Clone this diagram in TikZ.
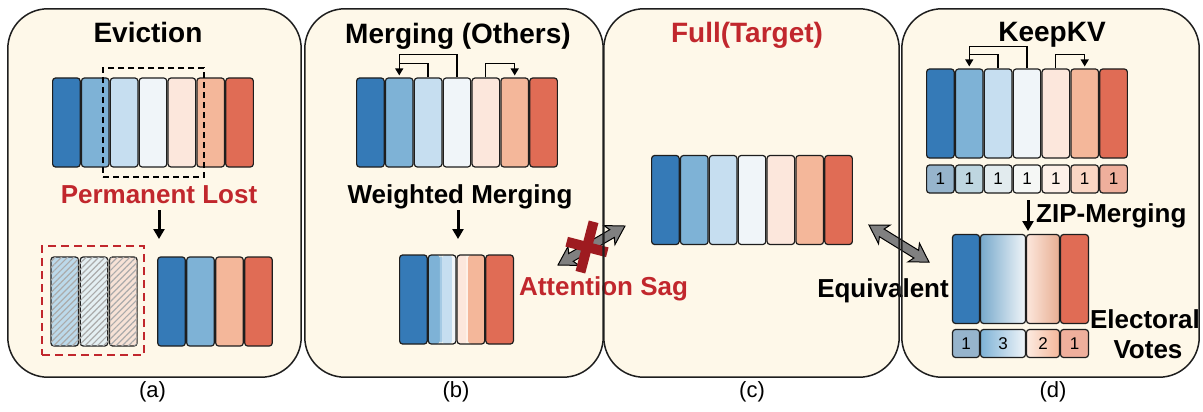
\documentclass[tikz,border=0pt]{standalone}
\usepackage{fontspec}
\setmainfont{Liberation Sans}
\usetikzlibrary{calc,arrows.meta,patterns.meta}
\definecolor{c1}{HTML}{357AB7}
\definecolor{c2}{HTML}{7EB2D6}
\definecolor{c3}{HTML}{C6DEF0}
\definecolor{c4}{HTML}{F0F5F9}
\definecolor{c5}{HTML}{FCE7DC}
\definecolor{c6}{HTML}{F4B79A}
\definecolor{c7}{HTML}{E06C55}
\definecolor{v1}{HTML}{96B4CC}
\definecolor{v2}{HTML}{BED6E0}
\definecolor{v3}{HTML}{E2EBEE}
\definecolor{v4}{HTML}{F5F7F5}
\definecolor{v5}{HTML}{FDF0E8}
\definecolor{v6}{HTML}{FAD6C4}
\definecolor{v7}{HTML}{EFAF9C}
\definecolor{h1}{HTML}{BCD9EA}
\definecolor{h2}{HTML}{E4EFF2}
\definecolor{h3}{HTML}{F7E2D6}
\definecolor{hatch}{HTML}{ABABAB}
\definecolor{cream}{HTML}{FEF8E9}
\definecolor{xred}{HTML}{C1272D}
\definecolor{xdark}{HTML}{9E1B20}
\definecolor{fatgray}{HTML}{808080}
\definecolor{edge}{HTML}{1E1E1E}
\newcommand\ttlfont{\fontsize{28}{32}\selectfont\bfseries}
\newcommand\lblfont{\fontsize{26}{30}\selectfont\bfseries}
\newcommand\capfont{\fontsize{22}{26}\selectfont}
\newcommand\numfont{\fontsize{17}{20}\selectfont}
\newcommand\mystripe[3]{\fill[#3] ($(path picture bounding box.south west)!#1!(path picture bounding box.south east)$) rectangle ($(path picture bounding box.north west)!#2!(path picture bounding box.north east)$);}
% fat double arrow of length #1 (pt), along local x axis
\newcommand\fatpoly[1]{\filldraw[fatarrow] (0pt,0pt) -- (18pt,11pt) -- (15pt,4.5pt) -- ({#1pt-15pt},4.5pt) -- ({#1pt-18pt},11pt) -- (#1pt,0pt) -- ({#1pt-18pt},-11pt) -- ({#1pt-15pt},-4.5pt) -- (15pt,-4.5pt) -- (18pt,-11pt) -- cycle;}
\begin{document}
\begin{tikzpicture}[x=1pt,y=-1pt,
  panelfill/.style={fill=cream, rounded corners=40pt, minimum height=368pt, inner sep=0pt},
  paneledge/.style={draw=edge, line width=1.5pt, rounded corners=40pt},
  bar/.style={draw=edge, line width=1.2pt, rounded corners=3pt, minimum width=27.6pt, minimum height=89pt, inner sep=0pt},
  vote/.style={bar, minimum height=28pt, font=\numfont},
  hbar/.style={bar, postaction={pattern={Lines[angle=45,distance=4.4pt,line width=1.2pt]}, pattern color=hatch}},
  ttl/.style={font=\ttlfont, anchor=base, inner sep=0pt},
  lbl/.style={font=\lblfont, anchor=base, inner sep=0pt},
  subcap/.style={font=\capfont, inner sep=0pt},
  conn/.style={draw=black, line width=1.3pt, -{Triangle[length=7pt,width=8pt]}},
  plain/.style={draw=black, line width=1.3pt},
  down/.style={draw=black, line width=3pt, -{Triangle[length=10pt,width=11pt]}},
  fatarrow/.style={draw=black, line width=1pt, fill=fatgray, line join=miter},
  xbar/.style={draw=xdark, line width=10pt}
]
\useasboundingbox (0,0) rectangle (1203,412);
\fill[white] (0,0) rectangle (1203,412);

% panel backgrounds
\node[panelfill, minimum width=293pt] (pa) at (154.5,193) {};
\node[panelfill, minimum width=298pt] (pb) at (454,193) {};
\node[panelfill, minimum width=295pt] (pc) at (751.5,193) {};
\node[panelfill, minimum width=297pt] (pd) at (1050.5,193) {};

% ---------- (a) Eviction ----------
\node[ttl] (ta) at (148,43) {Eviction};
\foreach \i/\c in {1/c1,2/c2,3/c3,4/c4,5/c5,6/c6,7/c7}
  \node[bar, fill=\c] (a\i) at ({66.4+28.86*(\i-1)},122.5) {};
\node[draw=black, line width=1.5pt, dash pattern=on 6pt off 4pt, minimum width=101pt, minimum height=109pt, inner sep=0pt] (sel) at (153.5,122.5) {};
\node[lbl, text=xred] (lost) at (159,203) {Permanent Lost};
\coordinate (aT) at (159,210);
\coordinate (aB) at (159,239);
\draw[down] (aT) -- (aB);
\foreach \i/\c in {1/h1,2/h2,3/h3}
  \node[hbar, fill=\c] (ah\i) at ({64.7+29.3*(\i-1)},301.5) {};
\node[draw=xred, line width=1.5pt, dash pattern=on 8pt off 5pt, minimum width=102pt, minimum height=109pt, inner sep=0pt] (lostbox) at (93,300.5) {};
\foreach \i/\c in {1/c1,2/c2,3/c6,4/c7}
  \node[bar, fill=\c] (ak\i) at ({171.5+29*(\i-1)},301.5) {};
\node[subcap] (la) at (152.5,392) {(a)};

% ---------- (b) Merging (Others) ----------
\node[ttl] (tb) at (458,44) {Merging (Others)};
\foreach \i/\c in {1/c1,2/c2,3/c3,4/c4,5/c5,6/c6,7/c7}
  \node[bar, fill=\c] (b\i) at ({370.4+28.86*(\i-1)},122.5) {};
\draw[conn] (b4.north) -- ++(0,-23) -| ([yshift=2pt]b2.north);
\draw[plain] (b3.north) -- ++(0,-14) -- ($(b2.north)+(0,-14)$);
\draw[conn] (b5.north) -- ++(0,-14) -| ([yshift=2pt]b6.north);
\node[lbl] (wm) at (460,203) {Weighted Merging};
\coordinate (bT) at (458,210);
\coordinate (bB) at (458,239);
\draw[down] (bT) -- (bB);
\node[bar, fill=c1] (bm1) at (413.4,299.5) {};
\node[bar, path picture={\mystripe{0}{0.42}{c2}\mystripe{0.42}{0.5}{c2!45!c3}\mystripe{0.5}{0.86}{c3}\mystripe{0.86}{1}{c4}}] (bm2) at (442.1,299.5) {};
\node[bar, path picture={\mystripe{0}{0.34}{c5}\mystripe{0.34}{0.4}{c5!60!white}\mystripe{0.4}{1}{c6}}] (bm3) at (470.9,299.5) {};
\node[bar, fill=c7] (bm4) at (499.6,299.5) {};
\node[subcap] (lb) at (456,392) {(b)};

% ---------- (c) Full(Target) ----------
\node[ttl, text=xred] (tc) at (747,43) {Full(Target)};
\foreach \i/\c in {1/c1,2/c2,3/c3,4/c4,5/c5,6/c6,7/c7}
  \node[bar, fill=\c] (c\i) at ({665.4+28.86*(\i-1)},200) {};
\node[subcap] (lc) at (752,392) {(c)};

% Attention Sag
\begin{scope}[shift={(558,265)}, rotate=30.2]
  \fatpoly{77.5}
\end{scope}
\coordinate (x1) at (566.7,241.7);
\coordinate (x2) at (607.3,252.3);
\coordinate (x3) at (593.6,221.8);
\coordinate (x4) at (580.4,272.2);
\draw[xbar] (x1) -- (x2);
\draw[xbar] (x3) -- (x4);
\node[lbl, text=xred] (sagt) at (603.5,295) {Attention Sag};

% Equivalent
\begin{scope}[shift={(869,225)}, rotate=-31.7]
  \fatpoly{70.5}
\end{scope}
\node[lbl] (eqt) at (883,297) {Equivalent};

% ---------- (d) KeepKV ----------
\node[ttl] (td) at (1052,42) {KeepKV};
\foreach \i/\c/\v in {1/c1/v1,2/c2/v2,3/c3/v3,4/c4/v4,5/c5/v5,6/c6/v6,7/c7/v7}{
  \node[bar, fill=\c] (d\i) at ({940.4+28.86*(\i-1)},113.5) {};
  \node[vote, fill=\v] (dv\i) at ({940.4+28.86*(\i-1)},179) {1};
}
\draw[conn] (d4.north) -- ++(0,-22) -| ([yshift=2pt]d2.north);
\draw[plain] (d3.north) -- ++(0,-14) -- ($(d2.north)+(0,-14)$);
\draw[conn] (d5.north) -- ++(0,-14) -| ([yshift=2pt]d6.north);
\coordinate (dT) at (1028,200);
\coordinate (dB) at (1028,231);
\draw[down] (dT) -- (dB);
\node[lbl, anchor=base west] (zip) at (1036,222) {ZIP-Merging};
\node[bar, fill=c1, minimum width=27pt] (dm1) at (966,279) {};
\node[bar, left color=c2!95!black, right color=c4, minimum width=45pt] (dm2) at (1003,279) {};
\node[bar, left color=c5, right color=c6!95!black, minimum width=33pt] (dm3) at (1043,279) {};
\node[bar, fill=c7, minimum width=28pt] (dm4) at (1074.5,279) {};
\node[vote, fill=v1, minimum width=27pt] (dw1) at (966,343.5) {1};
\node[vote, left color=c2, right color=c4, minimum width=45pt] (dw2) at (1003,343.5) {3};
\node[vote, left color=v5!80!v6, right color=c6, minimum width=33pt] (dw3) at (1043,343.5) {2};
\node[vote, fill=v7, minimum width=28pt] (dw4) at (1074.5,343.5) {1};
\node[lbl] (el) at (1145,328) {Electoral};
\node[lbl] (vo) at (1148,358) {Votes};
\node[subcap] (ld) at (1053,392) {(d)};

% panel outlines on top
\foreach \p in {pa,pb,pc,pd}
  \draw[paneledge] (\p.north west) rectangle (\p.south east);
\end{tikzpicture}
\end{document}
